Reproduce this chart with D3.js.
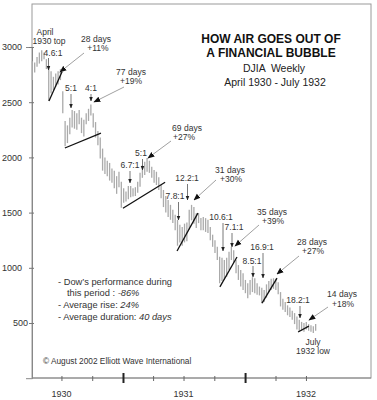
<!DOCTYPE html>
<html><head><meta charset="utf-8">
<script src="https://cdn.jsdelivr.net/npm/d3@7"></script>
<style>
html,body{margin:0;padding:0;background:#fff;}
svg{display:block;font-family:"Liberation Sans",Arial,Helvetica,sans-serif;}
</style></head><body>
<svg id="chart" width="377" height="400"></svg>
<script>
// ---------------- DATA ----------------
const firstWeek = "1930-04-05";   // weekly bars, one per week
const highs = [2870,2860,2910,2950,2970,2950,2890,2830,2780,2730,2760,2780,2800,2600,2330,2290,2360,2430,2420,2400,
               2430,2360,2340,2400,2440,2480,2400,2320,2240,2180,2080,2000,1970,1950,1900,1880,1830,1870,1780,1720,
               1690,1740,1740,1720,1730,1780,1860,1930,1960,1995,1970,1915,1885,1870,1820,1750,1705,1650,1615,1570,
               1525,1480,1435,1390,1370,1400,1410,1525,1570,1550,1495,1495,1450,1460,1450,1435,1370,1300,1250,1190,
               1100,1090,1070,1090,1145,1190,1160,1070,1025,980,950,890,860,890,915,905,860,830,820,800,
               850,880,900,905,900,870,780,720,690,660,640,610,590,560,530,510,500,510,490,480,
               470,490];
const lows  = [2700,2770,2820,2850,2870,2890,2800,2510,2580,2610,2640,2660,2700,2400,2100,2130,2210,2270,2260,2250,
               2300,2220,2190,2300,2330,2380,2270,2180,2110,1990,1880,1850,1830,1790,1770,1720,1670,1730,1545,1590,
               1600,1620,1640,1645,1650,1680,1735,1815,1840,1870,1860,1815,1770,1750,1705,1630,1550,1500,1460,1435,
               1405,1340,1200,1230,1200,1230,1240,1345,1430,1400,1360,1405,1340,1340,1325,1315,1250,1190,1135,1070,
               860,880,890,920,980,1070,1045,950,890,830,800,770,725,755,780,770,755,750,680,690,
               730,780,800,810,800,760,650,620,600,570,555,530,490,440,420,430,420,440,430,420,
               410,430];
const yTicks = [500,1000,1500,2000,2500,3000];
const yearLabels = ["1930","1931","1932"];
// trend lines: [start bar index, start value, end bar index, end value]
const trendLines = [[7.1,2510,12.7,2775],[13.9,2085,29.3,2220],[38.7,1540,56.7,1775],[61.8,1152,70.7,1495],
                    [80.1,827,87.4,1098],[98.1,680,104.5,907],[113.5,418,118.1,472]];
const ratioTexts = ["4.6:1","5:1","4:1","6.7:1","5:1","7.8:1","12.2:1","10.6:1","7.1:1","16.9:1","8.5:1","18.2:1"];
const rallyDays = ["28 days","77 days","69 days","31 days","35 days","28 days","14 days"];
const rallyGains = ["+11%","+19%","+27%","+30%","+39%","+27%","+18%"];

// ---------------- LAYOUT ----------------
const svg = d3.select("#chart");
const L = 32, T = 4, R = 371, B = 378;
const parse = d3.utcParse("%Y-%m-%d");
const start = parse(firstWeek);
const dateOf = i => new Date(start.getTime() + i * 7 * 864e5);
const x = d3.scaleUtc().domain([Date.UTC(1930,3,1), Date.UTC(1933,0,1)]).range([31, 367.5]);
const y = d3.scaleLinear().domain([0, 3000]).range([378.2, 47]);
const bars = highs.map((h, i) => ({d: dateOf(i), h, l: lows[i]}));

const defs = svg.append("defs");
defs.append("marker").attr("id","big").attr("viewBox","0 0 10 10").attr("refX",9).attr("refY",5)
  .attr("markerWidth",7).attr("markerHeight",7).attr("markerUnits","userSpaceOnUse").attr("orient","auto")
  .append("path").attr("d","M0,1 L10,5 L0,9 Z").attr("fill","#111");
defs.append("marker").attr("id","small").attr("viewBox","0 0 10 10").attr("refX",9).attr("refY",5)
  .attr("markerWidth",4.5).attr("markerHeight",4.5).attr("markerUnits","userSpaceOnUse").attr("orient","auto")
  .append("path").attr("d","M0,1 L10,5 L0,9 Z").attr("fill","#222");

// frame
svg.append("rect").attr("x",L).attr("y",T).attr("width",R-L).attr("height",B-T)
  .attr("fill","none").attr("stroke","#9a9a9a").attr("stroke-width",1);

// y axis
const ya = svg.append("g").attr("transform",`translate(${L},0)`).call(d3.axisLeft(y).tickValues(yTicks).tickFormat(d3.format("d")));
ya.select(".domain").attr("stroke","#888");
ya.selectAll(".tick line").attr("x1",2).attr("x2",-3).attr("stroke","#777");
ya.selectAll(".tick text").attr("x",-10).attr("fill","#333").attr("font-size",9).style("font-family","Liberation Sans, Arial, sans-serif");
ya.selectAll(".tick text").filter(d => d === 500).attr("x",-4);

// x axis
const quarters = d3.utcMonth.every(3).range(new Date(Date.UTC(1930,6,1)), new Date(Date.UTC(1932,7,1)));
const xa = svg.append("g").attr("transform",`translate(0,${B})`)
  .call(d3.axisBottom(x).tickValues(quarters).tickFormat(""));
xa.select(".domain").attr("stroke","#888").attr("d",`M${L},0H${R}`);
xa.selectAll(".tick line").attr("y1",-2).attr("y2",3).attr("stroke","#666");
xa.selectAll(".tick").filter(d => d.getUTCMonth() === 0).select("line")
  .attr("y1",-5).attr("y2",5).attr("stroke","#222").attr("stroke-width",2);
svg.append("g").selectAll("text").data(yearLabels).join("text")
  .attr("x", d => x(Date.UTC(+d,6,1))).attr("y",397).attr("text-anchor","middle")
  .attr("font-size",9).attr("fill","#333").text(d => d);

// bars
svg.append("g").selectAll("line").data(bars).join("line")
  .attr("x1", d => x(d.d)).attr("x2", d => x(d.d))
  .attr("y1", d => y(d.h)).attr("y2", d => y(d.l))
  .attr("stroke","#aaaaaa").attr("stroke-width",1.3);

// trend lines
svg.append("g").selectAll("line").data(trendLines).join("line")
  .attr("x1", d => x(dateOf(d[0]))).attr("y1", d => y(d[1]))
  .attr("x2", d => x(dateOf(d[2]))).attr("y2", d => y(d[3]))
  .attr("stroke","#111").attr("stroke-width",1.3);

// ratio labels with short vertical arrows (layout in px)
const ratioPos = [[53,56,48.5,58,70],[71,91,71,94,108],[91,91,91,94,101],[130,168,130,171,183],[141,156,142.5,159,170],
                  [175,199,178.5,202,220],[187,181,187.5,184,200],[221,220,223,223,251],[234,230,232,233,247],
                  [262,250,263,253,278],[252,264,253,266,277],[298,303,300,306,318]];
const rg = svg.append("g");
ratioTexts.forEach((t, i) => {
  const p = ratioPos[i];
  rg.append("text").attr("x",p[0]).attr("y",p[1]).attr("text-anchor","middle").attr("font-size",8.5).attr("fill","#333").text(t);
  rg.append("line").attr("x1",p[2]).attr("x2",p[2]).attr("y1",p[3]).attr("y2",p[4])
    .attr("stroke","#555").attr("stroke-width",0.8).attr("marker-end","url(#small)");
});

// rally labels with diagonal arrows
const rallyPos = [[96,42,98,51,84,53,60,72],[131,75,131,84,124,87,94,102],[187,131,184,140,171,141,148,158],
                  [230,173,231,182,216,180,194,200],[272,215,273,224,259,225,235,246],[312,245,313,254,299,256,277,274],
                  [342,297,343,307,328,307,309,320]];
rallyDays.forEach((t, i) => {
  const p = rallyPos[i];
  rg.append("text").attr("x",p[0]).attr("y",p[1]).attr("text-anchor","middle").attr("font-size",8.5).attr("fill","#333").text(t);
  rg.append("text").attr("x",p[2]).attr("y",p[3]).attr("text-anchor","middle").attr("font-size",8.5).attr("fill","#333").text(rallyGains[i]);
  rg.append("line").attr("x1",p[4]).attr("y1",p[5]).attr("x2",p[6]).attr("y2",p[7])
    .attr("stroke","#888").attr("stroke-width",0.8).attr("marker-end","url(#big)");
});

// top / low labels
[["April",45,35],["1930 top",49,44],["July",313,345],["1932 low",313,354]].forEach(a => {
  rg.append("text").attr("x",a[1]).attr("y",a[2]).attr("text-anchor","middle").attr("font-size",8.5).attr("fill","#333").text(a[0]);
});

// title
const tg = svg.append("g").attr("text-anchor","middle");
tg.append("text").attr("x",271).attr("y",43).attr("font-size",12).attr("font-weight","bold").attr("fill","#111").text("HOW AIR GOES OUT OF");
tg.append("text").attr("x",271).attr("y",57).attr("font-size",12).attr("font-weight","bold").attr("fill","#111").text("A FINANCIAL BUBBLE");
tg.append("text").attr("x",274).attr("y",72).attr("font-size",10.5).attr("fill","#222").attr("xml:space","preserve").text("DJIA  Weekly");
tg.append("text").attr("x",275).attr("y",86).attr("font-size",10.5).attr("fill","#222").text("April 1930 - July 1932");

// notes
const ng = svg.append("g").attr("font-size",9.3).attr("fill","#333");
const n1 = ng.append("text").attr("x",58).attr("y",285).text("- Dow\u2019s performance during");
const n2 = ng.append("text").attr("x",67).attr("y",296); n2.append("tspan").text("this period : "); n2.append("tspan").attr("font-style","italic").text("-86%");
const n3 = ng.append("text").attr("x",58).attr("y",308); n3.append("tspan").text("- Average rise: "); n3.append("tspan").attr("font-style","italic").text("24%");
const n4 = ng.append("text").attr("x",58).attr("y",320); n4.append("tspan").text("- Average duration: "); n4.append("tspan").attr("font-style","italic").text("40 days");
svg.append("text").attr("x",43).attr("y",364).attr("font-size",8.3).attr("fill","#333").text("\u00A9 August 2002 Elliott Wave International");
</script>
</body></html>
